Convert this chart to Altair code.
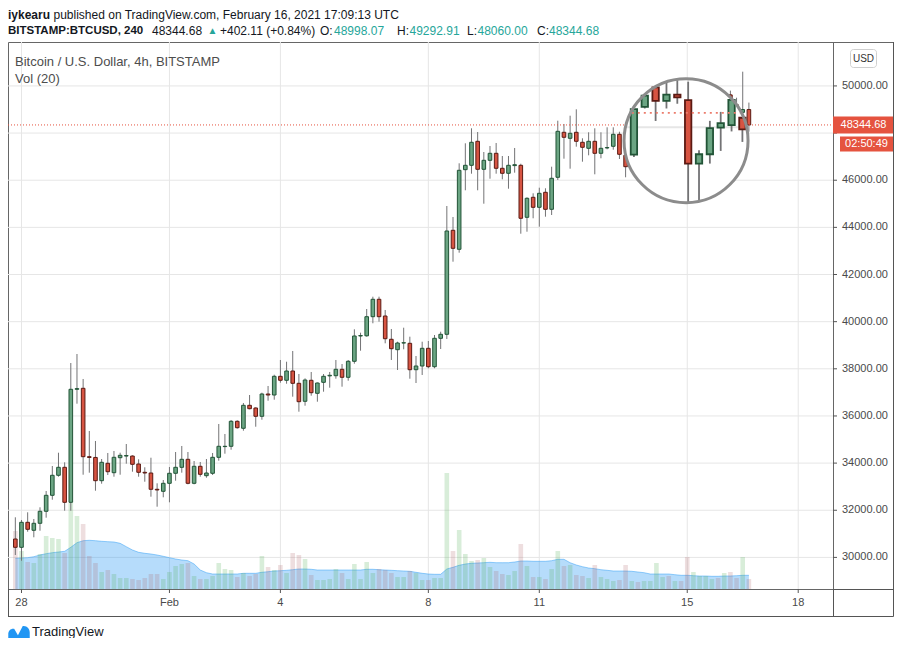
import math
import altair as alt
import pandas as pd

# ---------------- data ----------------
open_prices = [
    30780, 30428, 31489, 31150, 31447, 31956, 32634, 33483, 33822, 32337,
    37131, 37173, 34272, 34240, 33254, 33992, 33593, 34229, 34300, 34300,
    33962, 33610, 33580, 32889, 32804, 33143, 33568, 33822, 34161, 33143,
    33865, 33466, 33568, 34246, 34700, 34713, 35773, 35477, 36452, 36338,
    35986, 36931, 36889, 37682, 37513, 37907, 37385, 36622, 37513, 36961,
    37427, 37700, 37708, 37979, 37640, 38319, 39392, 39400, 40211, 40949,
    40240, 39252, 38811, 39095, 39082, 37962, 38119, 38870, 38089, 39294,
    39464, 43876, 43070, 46447, 46633, 47651, 46463, 46845, 47142, 46506,
    46294, 46620, 46633, 44427, 45276, 44851, 45488, 44766, 46124, 48033,
    47778, 48033, 47609, 47354, 47651, 47142, 47370, 47439, 47948, 47057,
    46574, 47100, 46950, 47250, 47341, 48491, 49200, 48635, 48787, 48652,
    47125, 47350, 47990, 48050, 48716, 47950, 49620, 49200, 48880, 48998.07,
]
high_prices = [
    31701, 31587, 31913, 31629, 32125, 32817, 33877, 34441, 34034, 38246,
    38628, 37568, 35362, 34938, 34174, 34429, 34514, 34441, 34810, 34330,
    34161, 33822, 34229, 33143, 33283, 33835, 34471, 34726, 34471, 34089,
    34047, 34174, 34429, 35659, 35235, 35829, 35816, 36550, 36889, 36367,
    36987, 37271, 37750, 38374, 38301, 38756, 37780, 37596, 37865, 37420,
    37780, 37865, 38374, 38204, 38374, 39676, 39532, 40537, 41059, 41059,
    40495, 39689, 39150, 39744, 39362, 38543, 39150, 39180, 39434, 39574,
    44906, 44440, 46718, 47566, 48202, 48045, 47197, 47452, 47579, 47027,
    47027, 47367, 46700, 45276, 45445, 45683, 45658, 46574, 48525, 48385,
    48737, 49008, 47778, 48033, 48202, 48033, 48245, 48245, 48058, 47452,
    47300, 47500, 47400, 47600, 48600, 49600, 49450, 49072, 49136, 49098,
    47447, 48155, 48371, 48957, 48900, 49700, 49800, 49500, 50604, 49292.91,
]
low_prices = [
    30102, 29860, 31090, 30853, 31133, 31684, 32448, 33423, 31981, 31981,
    36520, 33508, 33593, 32829, 33126, 33495, 33423, 33508, 33975, 33635,
    33423, 33211, 32575, 32151, 32549, 32337, 33254, 33593, 33100, 33100,
    33423, 33380, 33495, 34102, 34399, 34569, 35460, 35375, 36282, 35544,
    35841, 36647, 36690, 37411, 37368, 36817, 36181, 36435, 36859, 36605,
    37029, 37199, 37580, 37241, 37496, 38217, 38768, 39362, 39931, 39998,
    39082, 38374, 37950, 38828, 37580, 37398, 37738, 38022, 38022, 38840,
    39265, 42544, 42926, 45573, 46277, 45573, 45004, 46064, 46277, 46039,
    45640, 46320, 43731, 43816, 44385, 44029, 44453, 44525, 46010, 46913,
    46489, 47423, 46786, 47057, 46251, 46930, 47312, 47295, 46900, 46124,
    46400, 46800, 46700, 47000, 47286, 48453, 48152, 48453, 48567, 45800,
    46000, 47125, 47430, 47900, 47647, 47800, 49000, 48600, 48500, 48060.00,
]
close_prices = [
    30428, 31489, 31192, 31447, 31956, 32634, 33483, 33822, 32337, 37131,
    37160, 34272, 34240, 33254, 34034, 33635, 34246, 34331, 34320, 33949,
    33610, 33580, 32889, 32860, 33143, 33568, 33822, 34161, 33143, 33865,
    33525, 33580, 34246, 34713, 34713, 35773, 35502, 36452, 36308, 35986,
    36931, 36889, 37682, 37513, 37907, 37385, 36605, 37525, 36987, 37398,
    37682, 37725, 37979, 37640, 38319, 39392, 39410, 40211, 40949, 40211,
    39277, 38853, 39095, 39105, 37962, 38119, 38870, 38089, 39294, 39464,
    43846, 43112, 46421, 46633, 47609, 46463, 46845, 47142, 46506, 46294,
    46633, 46658, 44385, 45233, 44851, 45445, 44766, 46082, 48075, 47821,
    47990, 47651, 47397, 47651, 47142, 47354, 47385, 47948, 47100, 46574,
    47100, 46950, 47250, 47341, 48491, 49200, 48635, 48787, 48720, 47125,
    47350, 47981, 48100, 48716, 47950, 49620, 49200, 48880, 48998, 48344.68,
]
volumes = [
    3480, 2280, 1620, 1560, 2100, 3180, 3060, 3000, 2160, 5160,
    4380, 3900, 1980, 1560, 1020, 1140, 900, 660, 660, 600,
    540, 660, 900, 900, 600, 1020, 1380, 1500, 1560, 780,
    600, 600, 780, 1560, 1200, 1140, 720, 960, 780, 900,
    1980, 1320, 1140, 1440, 960, 2160, 2040, 1800, 840, 540,
    540, 600, 1200, 960, 600, 1500, 600, 1620, 960, 1200,
    1140, 960, 720, 720, 1080, 960, 540, 540, 660, 660,
    6960, 2280, 3540, 2100, 1680, 1740, 1860, 1320, 1080, 900,
    840, 1080, 2700, 1380, 720, 720, 600, 1200, 2280, 1380,
    1440, 840, 780, 660, 1440, 720, 600, 480, 540, 1440,
    480, 420, 480, 480, 1560, 720, 780, 480, 480, 1920,
    1020, 780, 780, 600, 660, 960, 1020, 660, 1920, 600,
]
volume_ma = [
    1842, 1860, 1878, 1938, 2040, 2118, 2178, 2220, 2262, 2502,
    2778, 2898, 2922, 2898, 2862, 2838, 2820, 2742, 2538, 2340,
    2202, 2142, 2100, 2040, 1962, 1878, 1800, 1740, 1698, 1500,
    1140, 978, 900, 900, 900, 900, 900, 942, 942, 942,
    1002, 1038, 1080, 1098, 1122, 1158, 1200, 1200, 1182, 1140,
    1140, 1140, 1140, 1140, 1140, 1140, 1140, 1182, 1182, 1158,
    1140, 1122, 1098, 1080, 1062, 1002, 942, 900, 882, 882,
    1200, 1302, 1422, 1500, 1542, 1560, 1578, 1602, 1578, 1578,
    1578, 1620, 1680, 1680, 1662, 1662, 1662, 1698, 1782, 1782,
    1578, 1440, 1338, 1260, 1218, 1158, 1122, 1080, 1080, 1080,
    1062, 1020, 978, 900, 900, 900, 900, 858, 822, 822,
    798, 780, 780, 762, 762, 780, 780, 798, 822, 822,
]
first_candle = "2021-01-27 20:00"
date_ticks = ["2021-01-28", "2021-02-01", "2021-02-04", "2021-02-08",
              "2021-02-11", "2021-02-15", "2021-02-18"]
date_labels = ["28", "Feb", "4", "8", "11", "15", "18"]
price_ticks = [30000, 32000, 34000, 36000, 38000, 40000,
               42000, 44000, 46000, 48000, 50000]
last_price = 48344.68
last_price_text = "48344.68"
countdown_text = "02:50:49"

# ---------------- styling / geometry ----------------
FONT = "Liberation Sans"
UP, UP_EDGE = "#6ba583", "#225437"
DOWN, DOWN_EDGE = "#d75442", "#5b1a13"
VOL_UP, VOL_DOWN = "rgba(76,175,80,0.22)", "rgba(170,90,95,0.20)"
WICK = "#737375"
GRID = "#e6e6e6"
AXIS = "#555555"
LABEL = "#4a4a4a"
INK = "#131722"
TEAL = "#26a69a"
PRICE_RED = "#e5533f"

DAY = 86400000
T0 = int(pd.Timestamp("2021-01-28", tz="UTC").value // 10**6)

PLOT_L, PLOT_R, PLOT_T, PLOT_B = 8, 833, 42, 589   # page pixels
W, H = PLOT_R - PLOT_L, PLOT_B - PLOT_T
X_JAN28, PX_PER_DAY = 16.6, 37.44
Y_30K, USD_PER_PX = 557.4, 42.42
VOL_PER_PX = 60


def px_of_t(t):
    return X_JAN28 + (t - T0) / DAY * PX_PER_DAY


def t_of_px(px):
    return T0 + (px - X_JAN28) / PX_PER_DAY * DAY


def py_of_p(p):
    return Y_30K - (p - 30000) / USD_PER_PX


def p_of_py(py):
    return 30000 + (Y_30K - py) * USD_PER_PX


times = pd.date_range(first_candle, periods=len(open_prices), freq="4h", tz="UTC")
t_ms = [int(ts.value // 10**6) for ts in times]

df = pd.DataFrame({
    "t": t_ms, "open": open_prices, "high": high_prices, "low": low_prices,
    "close": close_prices, "vol": volumes, "ma": volume_ma,
})
is_up = [c >= o for o, c in zip(open_prices, close_prices)]
df["fill"] = [UP if u else DOWN for u in is_up]
df["edge"] = [UP_EDGE if u else DOWN_EDGE for u in is_up]
df["vfill"] = [VOL_UP if u else VOL_DOWN for u in is_up]

xs = alt.Scale(domain=[t_of_px(PLOT_L), t_of_px(PLOT_R)], nice=False, zero=False)
ys = alt.Scale(domain=[p_of_py(PLOT_B), p_of_py(PLOT_T)], nice=False, zero=False)
vs = alt.Scale(domain=[0, H * VOL_PER_PX], nice=False, zero=True)

X = alt.X("t:Q", scale=xs, axis=None)


def Yp(field):
    return alt.Y(field, scale=ys, axis=None)


FILL = alt.Color("fill:N", scale=None)
EDGE = alt.Stroke("edge:N", scale=None)

yc_last = py_of_p(last_price)

# ---------------- axes drawn from the tick lists ----------------
tick_ms = [int(pd.Timestamp(d, tz="UTC").value // 10**6) for d in date_ticks]
ptick_df = pd.DataFrame({"p": price_ticks, "text": [f"{p:.2f}" for p in price_ticks]})
# the label that sits under the last-price tag is hidden in the reference
plabel_df = ptick_df[[abs(py_of_p(p) - yc_last - 9) > 22 for p in price_ticks]]
dtick_df = pd.DataFrame({"t": tick_ms, "text": date_labels})

grid_h = alt.Chart(ptick_df).mark_rule(color=GRID, strokeWidth=1).encode(
    y=Yp("p:Q"), x=alt.value(0), x2=alt.value(W))
grid_v = alt.Chart(dtick_df).mark_rule(color=GRID, strokeWidth=1).encode(
    x=X, y=alt.value(0), y2=alt.value(H))
grid_layer = alt.layer(grid_h, grid_v)

y_ticks = alt.Chart(ptick_df).mark_rule(color=AXIS, strokeWidth=1).encode(
    y=Yp("p:Q"), x=alt.value(W), x2=alt.value(W + 4))
y_labels = alt.Chart(plabel_df).mark_text(
    font=FONT, fontSize=11, color=LABEL, align="left", baseline="middle").encode(
    y=Yp("p:Q"), x=alt.value(W + 9), text="text:N")
x_ticks = alt.Chart(dtick_df).mark_rule(color=AXIS, strokeWidth=1).encode(
    x=X, y=alt.value(H), y2=alt.value(H + 4))
x_labels = alt.Chart(dtick_df).mark_text(
    font=FONT, fontSize=11, color=LABEL, align="center", baseline="middle").encode(
    x=X, y=alt.value(H + 14), text="text:N")

# ---------------- volume pane ----------------
base = alt.Chart(df)
vol_area = base.mark_area(color="#2196f3", opacity=0.33).encode(
    x=X, y=alt.Y("ma:Q", scale=vs, axis=None))
vol_line = base.mark_line(color="#2196f3", opacity=0.45, strokeWidth=1).encode(
    x=X, y=alt.Y("ma:Q", scale=vs, axis=None))
vol_bars = base.mark_bar(size=4.6).encode(
    x=X, y=alt.Y("vol:Q", scale=vs, axis=None),
    color=alt.Color("vfill:N", scale=None))
vol_layer = alt.layer(vol_area, vol_line, vol_bars)

# ---------------- candles ----------------
wicks = base.mark_rule(color=WICK, strokeWidth=1).encode(
    x=X, y=Yp("low:Q"), y2="high:Q")
bodies = base.mark_bar(size=3.6, strokeWidth=1).encode(
    x=X, y=Yp("open:Q"), y2="close:Q", color=FILL, stroke=EDGE)

price_df = pd.DataFrame({"p": [last_price]})
price_line = alt.Chart(price_df).mark_rule(
    color=PRICE_RED, strokeWidth=1, strokeDash=[1, 2]).encode(
    x=alt.value(0), x2=alt.value(W), y=Yp("p:Q"))

# ---------------- magnifier bubble ----------------
CX, CY, RING_R, MAG = 689.3, 140.7, 62.0, 1.76
CLIP_R = RING_R - 0.5
ring_size = (2 * RING_R) ** 2
ring_df = pd.DataFrame({"t": [t_of_px(CX)], "p": [p_of_py(CY)]})

ring_fill = alt.Chart(ring_df).mark_point(
    shape="circle", filled=True, color="white", opacity=1, size=ring_size).encode(
    x=X, y=Yp("p:Q"))
ring_edge = alt.Chart(ring_df).mark_point(
    shape="circle", filled=False, color="#8c8c8c", opacity=1,
    strokeWidth=3, size=ring_size).encode(x=X, y=Yp("p:Q"))


def mag_x(px):
    return CX + MAG * (px - CX)


def mag_y(py):
    return CY + MAG * (py - CY)


mag_wick_rows, mag_body_rows = [], []
for i in range(len(t_ms)):
    dx = mag_x(px_of_t(t_ms[i])) - CX
    if abs(dx) > CLIP_R - 4:
        continue
    half = math.sqrt(CLIP_R ** 2 - dx ** 2)
    lo, hi = CY - half, CY + half

    def clip(p):
        return min(max(mag_y(py_of_p(p)), lo), hi)

    yo, yc = clip(open_prices[i]), clip(close_prices[i])
    yh, yl = clip(high_prices[i]), clip(low_prices[i])
    tt = t_of_px(CX + dx)
    if yl - yh > 0.5:
        mag_wick_rows.append({"t": tt, "high": p_of_py(yh), "low": p_of_py(yl)})
    if not (yo == yc and yo in (lo, hi)):
        mag_body_rows.append({"t": tt, "open": p_of_py(yo), "close": p_of_py(yc),
                              "fill": df["fill"][i], "edge": df["edge"][i]})

mag_wicks = alt.Chart(pd.DataFrame(mag_wick_rows)).mark_rule(
    color=WICK, strokeWidth=1.8).encode(x=X, y=Yp("low:Q"), y2="high:Q")
mag_bodies = alt.Chart(pd.DataFrame(mag_body_rows)).mark_bar(
    size=6.4, strokeWidth=1.8).encode(
    x=X, y=Yp("open:Q"), y2="close:Q", color=FILL, stroke=EDGE)

grid_rows = []
for p in price_ticks:
    dy = mag_y(py_of_p(p)) - CY
    if abs(dy) < CLIP_R:
        hw = math.sqrt(CLIP_R ** 2 - dy ** 2)
        grid_rows.append({"t1": t_of_px(CX - hw), "t2": t_of_px(CX + hw),
                          "p1": p_of_py(CY + dy), "p2": p_of_py(CY + dy)})
for ms in tick_ms:
    dx = mag_x(px_of_t(ms)) - CX
    if abs(dx) < CLIP_R:
        hh = math.sqrt(CLIP_R ** 2 - dx ** 2)
        grid_rows.append({"t1": t_of_px(CX + dx), "t2": t_of_px(CX + dx),
                          "p1": p_of_py(CY - hh), "p2": p_of_py(CY + hh)})
mag_grid = alt.Chart(pd.DataFrame(grid_rows)).mark_rule(
    color=GRID, strokeWidth=1.8).encode(
    x=alt.X("t1:Q", scale=xs, axis=None), x2="t2:Q",
    y=Yp("p1:Q"), y2="p2:Q")

dyp = mag_y(py_of_p(last_price)) - CY
hwp = math.sqrt(CLIP_R ** 2 - dyp ** 2)
mag_price_df = pd.DataFrame({"t1": [t_of_px(CX - hwp)], "t2": [t_of_px(CX + hwp)],
                             "p": [p_of_py(CY + dyp)]})
mag_price = alt.Chart(mag_price_df).mark_rule(
    color="#ec7c6c", strokeWidth=1.8, strokeDash=[2, 4]).encode(
    x=alt.X("t1:Q", scale=xs, axis=None), x2="t2:Q", y=Yp("p:Q"))

# ---------------- decorations (page-pixel positions) ----------------
ONE = pd.DataFrame({"k": [0]})


def label(text, x, y, size=12, color=INK, weight="normal", align="left"):
    return alt.Chart(ONE).mark_text(
        text=text, font=FONT, fontSize=size, fontWeight=weight, color=color,
        align=align, baseline="middle").encode(
        x=alt.value(x - PLOT_L), y=alt.value(y - PLOT_T))


def hline(x1, x2, y, color=AXIS):
    return alt.Chart(ONE).mark_rule(color=color, strokeWidth=1).encode(
        x=alt.value(x1 - PLOT_L), x2=alt.value(x2 - PLOT_L), y=alt.value(y - PLOT_T))


def vline(x, y1, y2, color=AXIS):
    return alt.Chart(ONE).mark_rule(color=color, strokeWidth=1).encode(
        x=alt.value(x - PLOT_L), y=alt.value(y1 - PLOT_T), y2=alt.value(y2 - PLOT_T))


def box(x1, x2, y1, y2, fill, stroke=None, radius=0):
    kw = dict(fill=fill, cornerRadius=radius)
    if stroke:
        kw.update(stroke=stroke, strokeWidth=1)
    return alt.Chart(ONE).mark_rect(**kw).encode(
        x=alt.value(x1 - PLOT_L), x2=alt.value(x2 - PLOT_L),
        y=alt.value(y1 - PLOT_T), y2=alt.value(y2 - PLOT_T))


RIGHT, BOTTOM = 893.5, 616.5
frame = [
    hline(PLOT_R, RIGHT, PLOT_T + 0.5, "#666666"),
    vline(RIGHT, PLOT_T, BOTTOM),
    hline(PLOT_L, RIGHT, BOTTOM),
    hline(PLOT_R, RIGHT, PLOT_B + 0.5),
    vline(PLOT_L + 0.5, PLOT_B, BOTTOM),
    vline(PLOT_R + 0.5, PLOT_B, BOTTOM),
]

price_tags = [
    box(833, 893, yc_last - 8.5, yc_last + 8.5, PRICE_RED),
    label(last_price_text, 863.5, yc_last, 11, "white", align="center"),
    box(840, 893, yc_last + 11.5, yc_last + 26.5, PRICE_RED),
    label(countdown_text, 866.5, yc_last + 19, 11, "white", align="center"),
    box(850.5, 876.5, 49.5, 67.5, "white", "#cfcfcf", 3),
    label("USD", 863.5, 58.5, 10, "#333333", align="center"),
]

L1, L2 = 14.5, 30.5
header = [
    label("iykearu", 8, L1, 12, INK, "bold"),
    label("published on TradingView.com, February 16, 2021 17:09:13 UTC", 53.5, L1, 12),
    label("BITSTAMP:BTCUSD, 240", 8, L2, 11.5, INK, "bold"),
    label("48344.68", 152, L2, 12),
    label("\u25B2", 207.5, L2, 10, TEAL),
    label("+402.11 (+0.84%)", 220, L2, 12),
    label("O:", 320, L2, 12),
    label("48998.07", 334, L2, 12, TEAL),
    label("H:", 397, L2, 12),
    label("49292.91", 409.5, L2, 12, TEAL),
    label("L:", 467, L2, 12),
    label("48060.00", 477.5, L2, 12, TEAL),
    label("C:", 537, L2, 12),
    label("48344.68", 549, L2, 12, TEAL),
    label("Bitcoin / U.S. Dollar, 4h, BITSTAMP", 15, 61.5, 13, "#4d4d4d"),
    label("Vol (20)", 15, 78.5, 13, "#4d4d4d"),
]

logo_icon = alt.Chart(ONE).mark_point(
    shape="M-1,0.55 L-1,0.2 C-1,-0.15 -0.75,-0.35 -0.45,-0.3 L-0.1,0.3 L0.35,-0.55 "
          "C0.75,-0.6 1,-0.3 1,0.05 L1,0.55 Z",
    filled=True, color="#2196f3", opacity=1, size=460).encode(
    x=alt.value(19 - PLOT_L), y=alt.value(632 - PLOT_T))
logo = [logo_icon, label("TradingView", 32, 632, 13, INK)]

price_layer = alt.layer(
    wicks, bodies, price_line, ring_fill, mag_grid, mag_wicks, mag_bodies,
    mag_price, ring_edge, y_ticks, y_labels, x_ticks, x_labels,
    *frame, *price_tags, *header, *logo)

chart = alt.layer(grid_layer, vol_layer, price_layer).resolve_scale(
    y="independent").properties(
    width=W, height=H,
    padding={"left": 0, "top": PLOT_T - 8, "right": 61, "bottom": 49},
    autosize=alt.AutoSizeParams(type="none"),
    background="white",
).configure_view(stroke="#666666", strokeWidth=1)

chart.save("out.html", embed_options={"renderer": "svg", "actions": False})
